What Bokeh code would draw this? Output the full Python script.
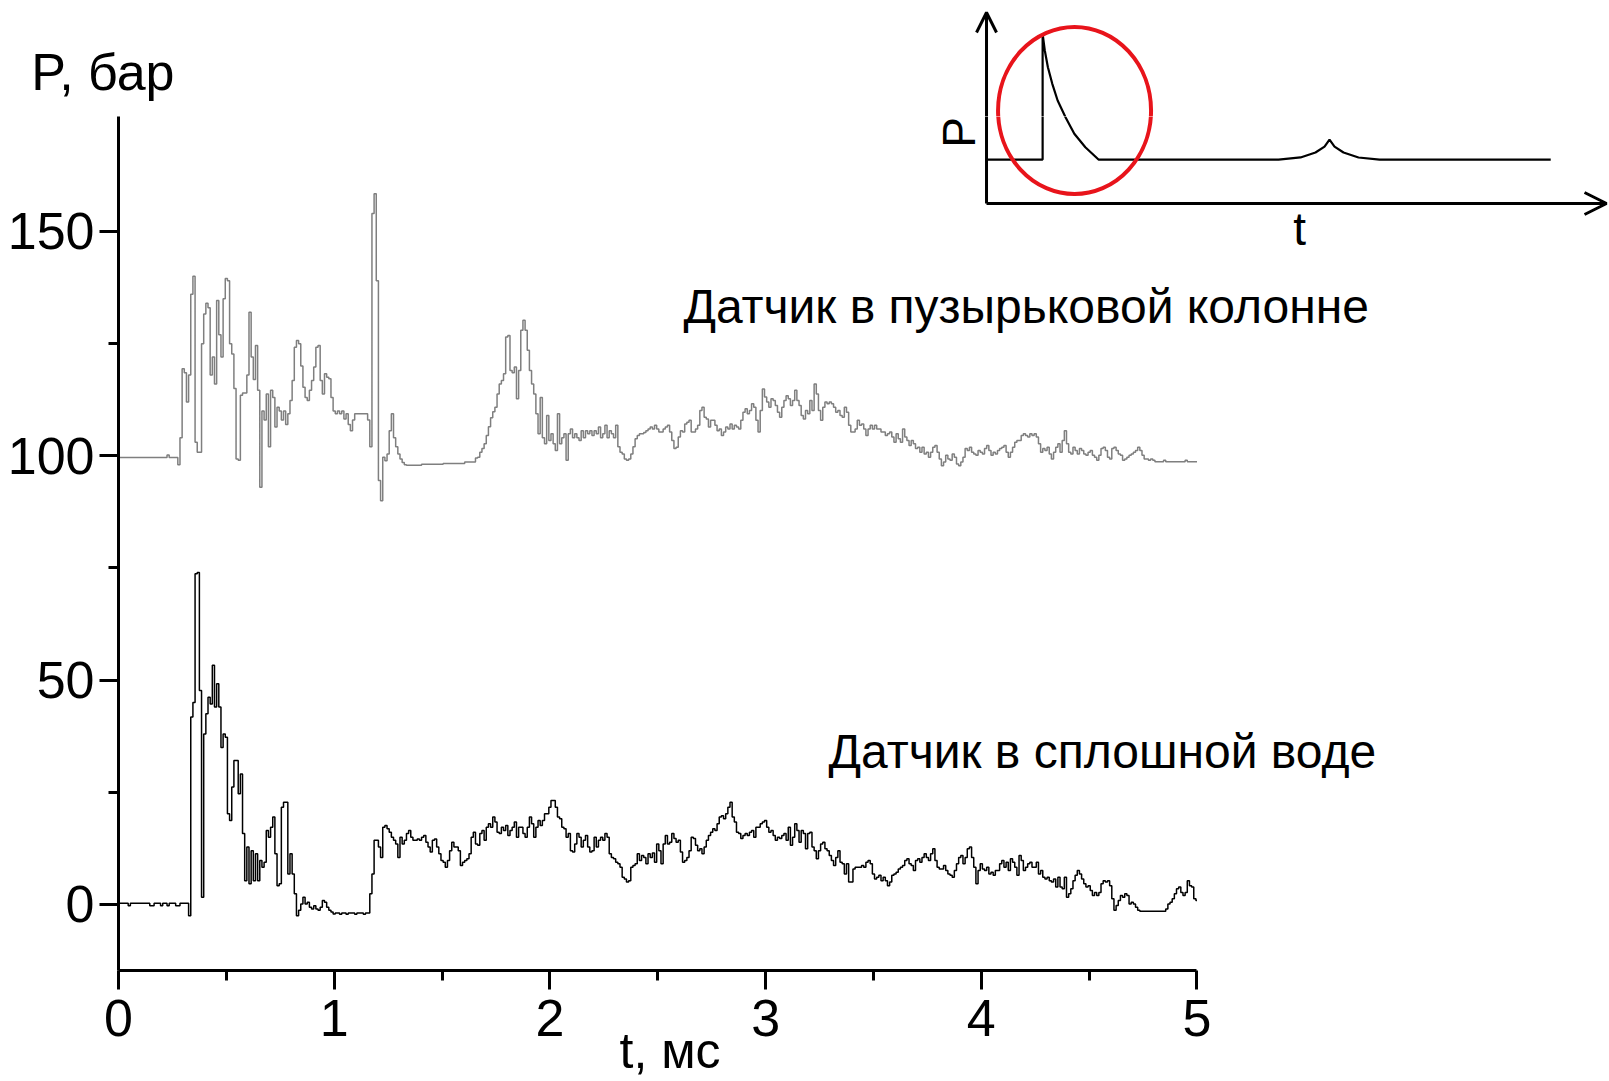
import numpy as np
from bokeh.plotting import figure
from bokeh.layouts import column
from bokeh.models import (Range1d, FixedTicker, Label, Arrow, OpenHead,
                          ColumnDataSource, LinearAxis)
from bokeh.embed import file_html
from bokeh.resources import INLINE

# ---------------- data ----------------
T_STEP_MS = 0.01  # sampling step of the digitised records, ms

# sensor in the bubbly column (grey), bar
bubble_column = [
    99.6, 99.6, 99.6, 99.6, 99.6, 99.6, 99.6, 99.6, 99.6, 99.6,
    99.6, 99.6, 99.6, 99.6, 99.6, 99.6, 99.6, 99.6, 99.6, 99.6,
    99.6, 99.6, 99.6, 100.2, 99.6, 99.6, 99.6, 99.6, 98.0, 104.0,
    119.4, 118.5, 112.0, 118.0, 136.0, 140.0, 103.0, 100.8, 100.8, 125.0,
    131.6, 134.0, 133.0, 118.0, 122.0, 116.0, 134.6, 127.0, 122.0, 135.0,
    139.5, 139.0, 125.0, 122.7, 115.0, 99.3, 99.0, 113.5, 114.0, 114.0,
    118.0, 132.0, 122.0, 117.0, 124.6, 114.6, 93.0, 110.0, 108.0, 113.8,
    102.0, 114.6, 113.0, 106.4, 110.8, 110.0, 108.0, 110.0, 107.0, 109.4,
    112.3, 116.8, 124.2, 125.7, 125.0, 120.0, 115.3, 113.0, 112.3, 114.6,
    116.8, 119.8, 124.2, 124.6, 116.8, 113.8, 118.3, 117.5, 117.2, 113.0,
    110.0, 109.4, 110.0, 109.4, 110.0, 108.2, 109.4, 107.0, 105.6, 108.0,
    109.4, 109.4, 109.4, 109.4, 109.4, 109.4, 108.0, 102.0, 154.0, 158.4,
    139.0, 94.5, 90.0, 99.7, 98.9, 100.4, 105.6, 109.4, 104.0, 102.0,
    100.4, 99.3, 98.5, 98.0, 97.9, 97.9, 97.9, 97.9, 97.9, 97.9,
    97.9, 98.1, 98.1, 98.1, 98.1, 98.1, 98.1, 98.1, 98.1, 98.1,
    98.1, 98.3, 98.3, 98.3, 98.3, 98.3, 98.3, 98.3, 98.3, 98.3,
    98.3, 98.6, 98.6, 98.6, 98.6, 98.6, 99.5, 99.7, 100.8, 101.6,
    102.7, 104.5, 106.5, 108.5, 109.8, 110.8, 113.8, 116.0, 116.8, 118.3,
    126.5, 126.8, 119.0, 118.5, 119.8, 112.7, 119.0, 128.0, 130.2, 128.0,
    123.5, 119.0, 116.0, 113.8, 109.4, 104.9, 113.0, 104.0, 102.7, 109.0,
    103.4, 104.9, 102.7, 101.2, 109.4, 102.7, 104.0, 104.9, 99.0, 104.9,
    106.0, 104.0, 104.9, 104.0, 103.4, 105.6, 104.0, 105.6, 104.9, 105.6,
    104.5, 105.6, 104.9, 106.4, 104.0, 104.9, 106.8, 104.0, 105.6, 104.9,
    104.0, 106.8, 102.0, 100.8, 100.4, 99.3, 99.0, 99.3, 100.4, 102.0,
    103.8, 104.5, 104.9, 104.9, 105.2, 105.6, 106.0, 106.4, 106.0, 106.8,
    106.0, 105.3, 105.3, 106.0, 106.4, 106.8, 105.3, 103.4, 101.6, 101.9,
    104.2, 105.6, 105.3, 107.1, 107.5, 107.9, 105.3, 105.3, 106.0, 106.8,
    110.1, 110.8, 108.6, 108.2, 106.4, 107.9, 107.9, 106.8, 105.6, 106.0,
    104.5, 105.3, 106.4, 106.0, 107.1, 106.0, 106.8, 106.4, 106.0, 107.9,
    109.7, 110.5, 109.4, 110.1, 111.6, 110.8, 107.9, 105.3, 110.1, 114.9,
    113.1, 112.0, 110.8, 112.7, 112.3, 111.2, 109.7, 108.6, 110.8, 112.3,
    113.4, 112.7, 111.2, 112.3, 114.6, 112.3, 111.2, 109.0, 108.2, 110.1,
    109.4, 112.3, 110.1, 116.0, 113.8, 110.1, 107.9, 110.8, 112.0, 111.6,
    112.0, 111.6, 110.8, 109.7, 110.1, 109.0, 108.6, 110.8, 109.7, 106.8,
    105.3, 105.3, 106.0, 107.9, 106.8, 107.1, 106.0, 104.5, 106.0, 106.8,
    106.0, 106.8, 106.0, 106.0, 105.3, 105.3, 104.5, 104.9, 105.3, 104.2,
    103.0, 104.9, 103.8, 103.0, 106.0, 104.2, 103.4, 102.3, 103.4, 102.7,
    101.6, 101.9, 100.8, 101.9, 100.4, 100.8, 99.7, 100.8, 101.9, 102.3,
    100.8, 99.3, 97.8, 98.6, 100.1, 99.3, 99.0, 100.4, 99.7, 98.2,
    97.8, 98.6, 99.7, 101.6, 101.2, 101.9, 100.8, 100.4, 100.1, 101.2,
    100.8, 100.4, 101.6, 102.3, 101.2, 100.1, 100.8, 100.4, 101.2, 101.6,
    101.9, 102.3, 100.8, 99.7, 100.8, 101.9, 103.0, 103.4, 103.4, 104.5,
    104.9, 104.5, 104.2, 104.9, 104.5, 104.9, 104.2, 102.7, 100.8, 101.6,
    101.2, 101.9, 100.4, 99.3, 100.8, 101.9, 102.7, 100.8, 103.4, 105.6,
    102.7, 100.8, 100.4, 101.9, 101.2, 100.4, 101.6, 101.2, 100.4, 100.1,
    100.8, 101.2, 100.1, 99.7, 99.0, 100.1, 101.6, 101.9, 101.2, 99.7,
    99.3, 101.6, 101.9, 101.2, 100.4, 100.1, 99.0, 99.3, 99.7, 100.1,
    100.4, 100.8, 101.2, 101.9, 101.2, 100.1, 99.3, 99.3, 99.0, 99.3,
    99.0, 98.7, 98.7, 98.7, 98.7, 99.0, 98.7, 98.7, 98.7, 98.7,
    98.7, 98.7, 98.7, 98.7, 98.7, 99.0, 98.7, 98.7, 98.7, 98.7,
    98.7,
]

# sensor in continuous water (black), bar
solid_water = [
    0.3, 0.3, 0.3, 0.3, 0.3, -0.3, 0.3, 0.3, 0.3, 0.3,
    0.3, 0.3, 0.3, 0.3, 0.3, -0.3, -0.3, 0.3, 0.3, 0.3,
    -0.3, 0.3, 0.3, -0.3, 0.3, 0.3, 0.3, -0.3, -0.3, 0.3,
    0.3, 0.3, 0.3, -2.5, 41.8, 45.0, 73.7, 74.0, 47.7, 1.6,
    38.0, 42.5, 46.2, 44.7, 53.3, 44.0, 49.2, 44.0, 35.0, 38.0,
    37.3, 20.2, 18.7, 26.2, 32.1, 32.1, 24.7, 29.1, 15.8, 5.3,
    12.8, 4.6, 12.0, 5.3, 11.3, 5.3, 9.8, 8.3, 9.4, 16.5,
    15.0, 17.2, 19.5, 11.3, 4.2, 4.6, 21.7, 22.8, 22.8, 6.8,
    11.3, 6.8, 2.4, -2.5, -1.3, 0.1, 1.6, 0.1, 0.5, -0.6,
    -1.0, -0.3, -1.0, -1.3, -0.6, 0.9, 0.5, -0.6, -1.3, -1.7,
    -2.1, -1.9, -1.9, -2.2, -1.9, -1.9, -2.2, -1.9, -1.9, -1.9,
    -2.2, -1.9, -1.9, -1.9, -2.2, -1.9, -1.9, 2.4, 6.8, 14.3,
    14.3, 12.8, 10.5, 17.2, 17.6, 16.9, 16.1, 15.0, 14.3, 13.5,
    10.5, 15.0, 13.5, 14.3, 15.8, 16.5, 15.0, 14.3, 14.3, 14.6,
    14.3, 15.0, 15.4, 13.9, 12.8, 11.7, 14.3, 14.6, 12.8, 11.3,
    9.8, 9.4, 8.3, 9.8, 12.0, 13.9, 12.8, 12.8, 12.0, 8.7,
    9.4, 9.8, 10.2, 11.3, 15.0, 16.1, 13.5, 13.2, 15.8, 16.5,
    14.3, 17.2, 18.0, 17.2, 19.5, 18.4, 16.1, 15.8, 17.2, 16.5,
    17.6, 15.4, 16.5, 17.2, 18.4, 15.0, 17.2, 17.2, 15.8, 15.0,
    17.2, 19.5, 18.0, 15.0, 17.2, 18.7, 17.6, 18.7, 20.2, 20.2,
    21.7, 23.2, 23.2, 21.7, 19.5, 19.1, 17.2, 16.9, 15.0, 15.8,
    12.0, 11.7, 13.5, 15.8, 15.0, 12.8, 14.3, 15.4, 12.8, 11.7,
    12.0, 15.0, 12.8, 14.3, 15.0, 14.3, 15.8, 15.0, 11.3, 10.5,
    10.2, 9.4, 9.1, 8.3, 6.1, 5.7, 5.0, 5.3, 8.3, 8.7,
    9.1, 11.3, 9.8, 10.9, 10.5, 9.1, 11.3, 10.5, 11.5, 9.4,
    13.5, 12.0, 9.1, 13.5, 15.4, 13.5, 13.9, 15.8, 14.7, 13.9,
    14.3, 11.7, 9.4, 9.8, 10.5, 12.0, 15.0, 14.7, 13.2, 12.0,
    12.4, 11.3, 12.8, 14.3, 15.4, 16.1, 16.9, 16.5, 18.0, 19.5,
    19.8, 19.1, 20.2, 21.7, 22.8, 19.5, 18.4, 16.1, 15.8, 14.7,
    15.4, 15.8, 15.4, 16.1, 16.5, 15.0, 17.2, 17.2, 18.0, 18.4,
    18.7, 17.2, 16.1, 16.5, 15.4, 14.3, 15.0, 14.7, 15.4, 15.8,
    14.3, 17.2, 13.2, 15.0, 18.0, 16.5, 13.9, 16.5, 15.8, 12.4,
    15.8, 16.1, 12.8, 12.0, 10.2, 12.0, 13.5, 13.9, 12.4, 12.0,
    10.9, 9.8, 8.7, 10.5, 12.0, 9.4, 9.1, 6.8, 9.1, 5.0,
    5.0, 7.9, 8.3, 8.3, 8.3, 8.7, 8.3, 9.4, 9.8, 9.1,
    6.8, 5.7, 6.1, 6.5, 5.3, 6.1, 5.3, 4.2, 5.0, 6.5,
    6.8, 7.2, 7.9, 8.3, 8.7, 9.8, 10.2, 9.1, 8.7, 7.6,
    9.8, 10.2, 9.4, 10.5, 11.3, 10.5, 9.8, 11.3, 12.4, 9.8,
    8.3, 7.9, 7.9, 8.7, 7.6, 6.8, 6.5, 6.1, 7.6, 9.1,
    10.5, 10.9, 9.1, 10.5, 12.4, 12.8, 10.5, 8.3, 4.6, 7.6,
    9.1, 7.9, 7.6, 8.3, 6.8, 7.2, 6.5, 7.6, 7.6, 9.1,
    9.8, 8.3, 9.4, 7.6, 10.2, 9.4, 8.3, 6.5, 10.9, 9.8,
    7.6, 8.3, 9.1, 9.4, 8.3, 8.3, 9.4, 6.8, 7.6, 6.1,
    5.7, 6.1, 5.3, 5.0, 5.7, 3.9, 6.1, 3.9, 3.5, 6.1,
    1.6, 2.4, 3.5, 5.3, 6.5, 7.6, 6.8, 5.7, 4.6, 3.9,
    4.2, 3.1, 2.0, 2.7, 2.0, 2.7, 4.6, 5.3, 5.0, 5.3,
    4.2, 1.3, -1.3, -0.2, 0.9, 2.0, 1.6, 2.4, 2.0, 0.1,
    0.5, 0.1, -0.6, -1.3, -1.5, -1.5, -1.5, -1.5, -1.5, -1.5,
    -1.5, -1.5, -1.5, -1.5, -1.5, -1.5, -1.0, 0.1, 0.5, 1.3,
    2.4, 3.5, 3.9, 2.7, 2.0, 2.7, 5.3, 4.2, 3.9, 1.3,
    0.9,
]

t_ms = np.round(np.arange(len(bubble_column)) * T_STEP_MS, 3)

x_major_ticks = [0, 1, 2, 3, 4, 5]
x_minor_ticks = [0.5, 1.5, 2.5, 3.5, 4.5]
y_major_ticks = [0, 50, 100, 150]
y_minor_ticks = [25, 75, 125]

label_bubble = "Датчик в пузырьковой колонне"
label_water = "Датчик в сплошной воде"
y_title = "P, бар"
x_title = "t, мс"
x_title_center = 2.557   # where the x title sits along the time axis, ms
y_title_level = 185.6    # where the P title sits along the pressure axis, bar

# schematic inset (arbitrary units: t 0..10, P 0..10)
inset_base_level = 2.30
inset_jump_t = 0.905
inset_decay_t = [0.905, 0.940, 0.990, 1.061, 1.147, 1.274, 1.416, 1.594, 1.806]
inset_decay_p = [8.885, 8.010, 7.136, 6.267, 5.393, 4.518, 3.649, 2.948, 2.30]
inset_bump_t = [4.710, 5.065, 5.306, 5.452, 5.532, 5.613, 5.758, 6.000, 6.339]
inset_bump_p = [2.30, 2.41, 2.67, 2.98, 3.35, 2.98, 2.67, 2.41, 2.30]
inset_end_t = 9.10
inset_circle_t, inset_circle_p = 1.42, 4.87

FONT = "Liberation Sans"
RED = "#e8141b"

# ranges shared between the two stacked figures (one continuous canvas)
X_END = 6.9124          # right edge of the canvas, in ms
Y_SPLIT = 175.62        # top of the main frame (end of the P axis), bar
INSET_T = (-14.0, 10.048)
INSET_P_SPLIT = 4.555


def draw_inset(fig, with_text):
    ik = dict(x_range_name="inset_t", y_range_name="inset_p")
    curve_t = [0.0, inset_jump_t] + inset_decay_t + inset_bump_t + [inset_end_t]
    curve_p = [inset_base_level, inset_base_level] + inset_decay_p + inset_bump_p + [inset_base_level]
    fig.line(curve_t, curve_p, line_color="black", line_width=2.2, **ik)
    fig.add_layout(Arrow(x_start=0, y_start=0, x_end=0, y_end=10, line_width=3,
                         end=OpenHead(size=20, line_width=3), **ik))
    fig.add_layout(Arrow(x_start=0, y_start=0, x_end=10, y_end=0, line_width=3,
                         end=OpenHead(size=22, line_width=3), **ik))
    fig.ellipse(x=[inset_circle_t], y=[inset_circle_p], width=153, height=167,
                width_units="screen", height_units="screen", fill_color=None,
                line_color=RED, line_width=4, **ik)
    if with_text:
        fig.add_layout(Label(x=-0.44, y=3.72, text="P", angle=np.pi / 2, text_font=FONT,
                             text_font_size="46px", text_align="center", text_color="black",
                             text_baseline="alphabetic", **ik))
        fig.add_layout(Label(x=5.05, y=-1.34, text="t", text_font=FONT, text_font_size="46px",
                             text_align="center", text_color="black",
                             text_baseline="alphabetic", **ik))


# ---------------- top strip (above the P axis) ----------------
top = figure(width=1609, height=116, output_backend="svg", toolbar_location=None,
             x_range=Range1d(0, X_END), y_range=Range1d(Y_SPLIT, 201.47),
             x_axis_location=None, y_axis_location="left", min_border=0,
             min_border_left=118, background_fill_color="white",
             border_fill_color="white")
top.outline_line_color = None
top.grid.visible = False
tyax = top.yaxis[0]
tyax.ticker = FixedTicker(ticks=[y_title_level], minor_ticks=[])
tyax.major_label_overrides = {y_title_level: y_title}
tyax.axis_line_color = None
tyax.major_tick_line_color = None
tyax.minor_tick_line_color = None
tyax.major_tick_in = 0
tyax.major_tick_out = 0
tyax.minor_tick_in = 0
tyax.minor_tick_out = 0
tyax.major_label_standoff = -56
tyax.major_label_text_font = FONT
tyax.major_label_text_font_size = "52px"
tyax.major_label_text_color = "black"
top.extra_x_ranges = {"inset_t": Range1d(*INSET_T)}
top.extra_y_ranges = {"inset_p": Range1d(INSET_P_SPLIT, 10.628)}
draw_inset(top, with_text=False)

# ---------------- main chart ----------------
p = figure(frame_width=1491, frame_height=854, output_backend="svg", toolbar_location=None,
           x_range=Range1d(0, X_END), y_range=Range1d(-14.71, Y_SPLIT),
           min_border_left=118, min_border_right=0, min_border_top=0,
           min_border_bottom=111, background_fill_color="white",
           border_fill_color="white")
p.outline_line_color = None
p.grid.visible = False

for ax in (p.xaxis[0], p.yaxis[0]):
    ax.axis_line_width = 3
    ax.axis_line_color = "black"
    ax.major_tick_line_width = 3
    ax.minor_tick_line_width = 3
    ax.major_tick_in = 0
    ax.major_tick_out = 19
    ax.minor_tick_in = 0
    ax.minor_tick_out = 10
    ax.major_label_text_font = FONT
    ax.major_label_text_font_size = "52px"
    ax.major_label_text_color = "black"

p.xaxis.bounds = (0, 5)
p.yaxis.bounds = (-14.71, Y_SPLIT)
p.xaxis.ticker = FixedTicker(ticks=x_major_ticks, minor_ticks=x_minor_ticks)
p.yaxis.ticker = FixedTicker(ticks=y_major_ticks, minor_ticks=y_minor_ticks)
p.xaxis.major_label_standoff = 10
p.yaxis.major_label_standoff = 5

title_axis = LinearAxis(ticker=FixedTicker(ticks=[x_title_center], minor_ticks=[]),
                        major_label_overrides={x_title_center: x_title},
                        axis_line_color=None, major_tick_line_color=None,
                        minor_tick_line_color=None, major_tick_in=0, major_tick_out=0,
                        minor_tick_in=0, minor_tick_out=0, major_label_standoff=-16,
                        major_label_text_font=FONT, major_label_text_font_size="50px",
                        major_label_text_color="black")
p.add_layout(title_axis, "below")

src = ColumnDataSource(dict(t=t_ms, bubble=bubble_column, water=solid_water))
p.step("t", "bubble", source=src, mode="center", line_color="#7f7f7f", line_width=1.5)
p.step("t", "water", source=src, mode="center", line_color="black", line_width=1.5)

p.add_layout(Label(x=2.619, y=133.2, text=label_bubble, text_font=FONT, text_color="black",
                   text_font_size="48px", text_align="left", text_baseline="alphabetic"))
p.add_layout(Label(x=3.292, y=34.0, text=label_water, text_font=FONT, text_color="black",
                   text_font_size="48px", text_align="left", text_baseline="alphabetic"))

p.extra_x_ranges = {"inset_t": Range1d(*INSET_T)}
p.extra_y_ranges = {"inset_p": Range1d(-40.157, INSET_P_SPLIT)}
draw_inset(p, with_text=True)

page = column(top, p, spacing=0)
open("out.html", "w").write(file_html(page, INLINE))
